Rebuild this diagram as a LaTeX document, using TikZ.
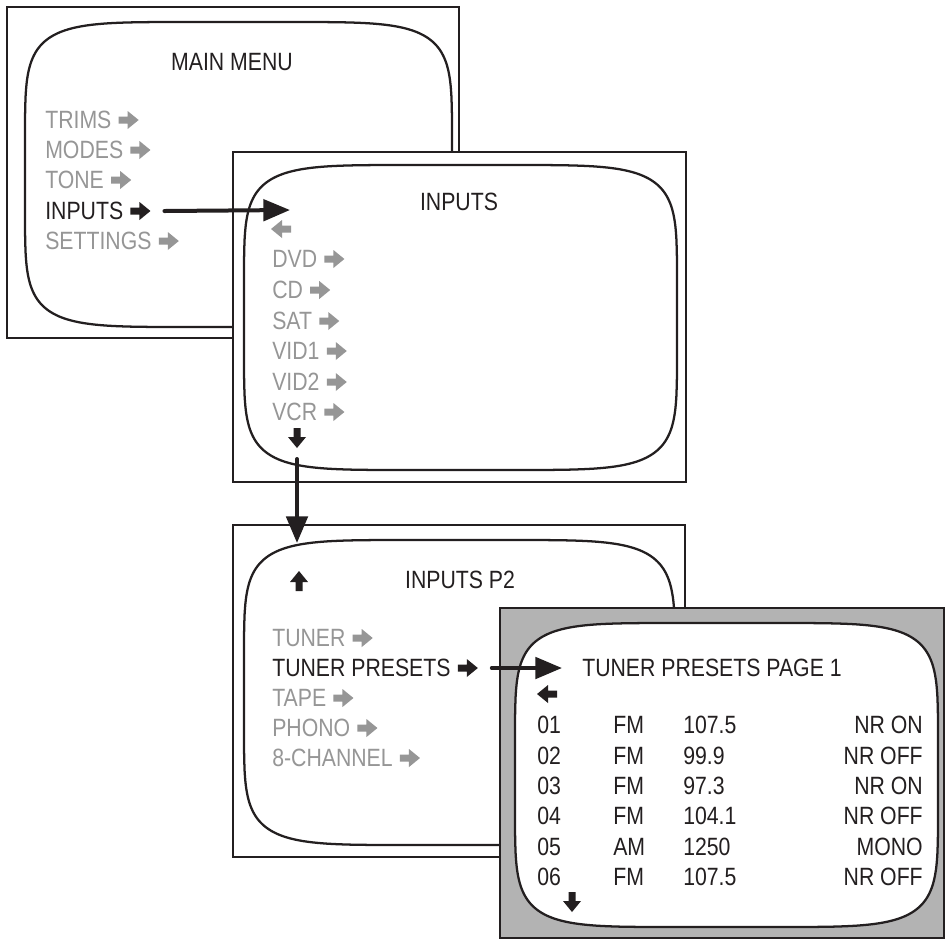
\documentclass[tikz,border=0pt]{standalone}
\usepackage{fontspec}
\setmainfont{Liberation Sans}[FakeStretch=0.85]
\usetikzlibrary{arrows.meta, calc}
\definecolor{menugray}{RGB}{150,150,150}
\definecolor{inkblack}{RGB}{35,31,32}
\definecolor{panelgray}{RGB}{179,179,179}
\newcommand{\osd}{\fontsize{18.75}{22}\selectfont}
% crt screen outline: centre x, centre y, half width, half height
\newcommand{\crtscreen}[4]{%
  \draw[tube] plot[domain=0.5:360.5, samples=361]
    ({#1+#3*sign(cos(\x))*abs(cos(\x))^(1/3)}, {#2+#4*sign(sin(\x))*abs(sin(\x))^(1/3)}) -- cycle;}
\tikzset{
  screenframe/.style={draw=inkblack, line width=1.7pt, fill=white},
  tube/.style={draw=inkblack, line width=1.7pt, fill=white},
  heading/.style={inner sep=0pt, font=\osd, text=inkblack},
  item/.style={anchor=west, inner sep=0pt, font=\osd, text=menugray},
  link/.style={draw=inkblack, line width=3pt, line cap=round, -{Triangle[length=20pt, width=16pt]}},
  rarr/.pic={\fill (-10,-3.5) -- (-1,-3.5) -- (-1,-9) -- (10,0) -- (-1,9) -- (-1,3.5) -- (-10,3.5) -- cycle;}
}

\begin{document}
\begin{tikzpicture}[x=0.75pt, y=-0.75pt]
\useasboundingbox (0,0) rectangle (945,940);

% main menu
\draw[screenframe] (7,7) rectangle (459,338);
\crtscreen{238.5}{174.5}{213.5}{152.5}
\node[heading] (mainmenu) at (232,62) {MAIN MENU};
\node[item] (trims) at (45,120) {TRIMS};
\node[item] (modes) at (45,150) {MODES};
\node[item] (tone) at (45,180) {TONE};
\node[item, text=inkblack] (inputsitem) at (45,211) {INPUTS};
\node[item] (settings) at (45,241) {SETTINGS};
\foreach \n in {trims, modes, tone, settings}
  \pic[menugray] at ($(\n.east)+(17,0)$) {rarr};
\pic[inkblack] at ($(inputsitem.east)+(17,0)$) {rarr};

% inputs
\draw[screenframe] (233,152) rectangle (686,482);
\crtscreen{460.5}{317.5}{216.5}{152.5}
\node[heading] (inputstitle) at (459,202) {INPUTS};
\pic[menugray, rotate=180] at (281,229) {rarr};
\foreach \name/\yy in {DVD/259, CD/290, SAT/321, VID1/351, VID2/382, VCR/412} {
  \node[item] (in\name) at (272,\yy) {\name};
  \pic[menugray] at ($(in\name.east)+(17,0)$) {rarr};
}
\pic[inkblack, rotate=-90] at (297,438) {rarr};
\coordinate (mmout) at ($(inputsitem.east)+(41,0)$);
\coordinate (inputsin) at (290,210);
\draw[link] (mmout) -- (inputsin);

% inputs page 2
\draw[screenframe] (233,525) rectangle (685,857);
\crtscreen{459.5}{692.5}{215.5}{152.5}
\node[heading] (ptwotitle) at (460,580) {INPUTS P2};
\pic[inkblack, rotate=90] at (299,581) {rarr};
\node[item] (tuner) at (272,638) {TUNER};
\node[item, text=inkblack] (presets) at (272,668) {TUNER PRESETS};
\node[item] (tape) at (272,698) {TAPE};
\node[item] (phono) at (272,728) {PHONO};
\node[item] (eightch) at (272,758) {8-CHANNEL};
\foreach \n in {tuner, tape, phono, eightch}
  \pic[menugray] at ($(\n.east)+(17,0)$) {rarr};
\pic[inkblack] at ($(presets.east)+(17,0)$) {rarr};
\coordinate (inputsout) at (297,459);
\coordinate (ptwoin) at (297,543);
\draw[link] (inputsout) -- (ptwoin);

% tuner presets page 1
\draw[screenframe, fill=panelgray] (500,608) rectangle (944,938);
\crtscreen{726.5}{775}{211.5}{152}
\node[heading, anchor=west] (tptitle) at (582,668) {TUNER PRESETS PAGE 1};
\pic[inkblack, rotate=180] at (547,694) {rarr};
\foreach \num/\band/\freq/\mode [count=\i] in {01/FM/107.5/NR ON, 02/FM/99.9/NR OFF,
    03/FM/97.3/NR ON, 04/FM/104.1/NR OFF, 05/AM/1250/MONO, 06/FM/107.5/NR OFF} {
  \node[item, text=inkblack] (num\i) at (537,{725+(\i-1)*30.4}) {\num};
  \node[item, text=inkblack] (band\i) at (613,{725+(\i-1)*30.4}) {\band};
  \node[item, text=inkblack] (freq\i) at (683,{725+(\i-1)*30.4}) {\freq};
  \node[item, text=inkblack, anchor=east] (mode\i) at (923,{725+(\i-1)*30.4}) {\mode};
}
\pic[inkblack, rotate=-90] at (572,902) {rarr};
\coordinate (presetsout) at ($(presets.east)+(41,0)$);
\coordinate (tpin) at (562,668);
\draw[link] (presetsout) -- (tpin);
\end{tikzpicture}
\end{document}
